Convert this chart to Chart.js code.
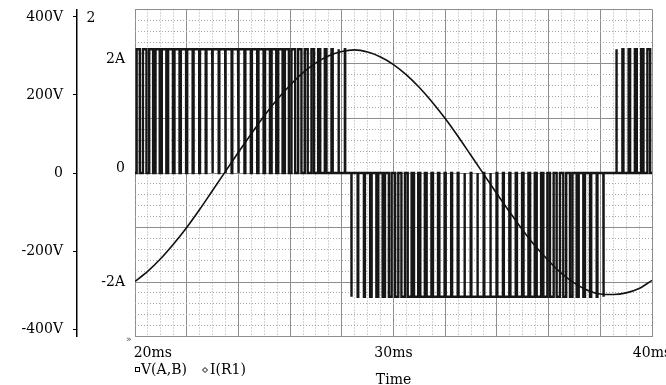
<!DOCTYPE html>
<html><head><meta charset="utf-8">
<script src="https://cdn.jsdelivr.net/npm/chart.js@4.4.1/dist/chart.umd.min.js"></script>
<style>html,body{margin:0;padding:0;background:#fff}canvas{display:block}</style>
</head><body>
<canvas id="c" width="666" height="385"></canvas>
<script>
// ---- axis data ----
const timeMinMs = 20, timeMaxMs = 40;
const timeTickLabels = {20: '20ms', 30: '30ms', 40: '40ms'};
const voltTickValues = [-400, -200, 0, 200, 400];
const currTickLabels = {2: '2A', 0: '0', '-2': '-2A'};
const axisNumberLabel = '2';
const legendVoltage = 'V(A,B)';
const legendCurrent = 'I(R1)';
const xTitle = 'Time';

// ---- I(R1) (A), sampled every 0.5 ms ----
const currentTimeMs = [20,20.5,21,21.5,22,22.5,23,23.5,24,24.5,25,25.5,26,26.5,27,27.5,28,28.5,29,29.5,30,30.5,31,31.5,32,32.5,33,33.5,34,34.5,35,35.5,36,36.5,37,37.5,38,38.5,39,39.5,40];
const currentA = [-1.99,-1.80,-1.57,-1.30,-1.00,-0.67,-0.32,0.03,0.38,0.72,1.05,1.35,1.61,1.84,2.02,2.15,2.23,2.26,2.22,2.13,1.99,1.80,1.57,1.30,1.00,0.67,0.32,-0.03,-0.38,-0.72,-1.05,-1.35,-1.61,-1.84,-2.02,-2.15,-2.22,-2.23,-2.20,-2.12,-1.97];

// ---- V(A,B) PWM pulses: centre time (ms), width (ms), level (V) per segment ----
const posPulseCentersA = [20.125,20.375,20.625,20.875,21.125,21.375,21.625,21.875,22.125,22.375,22.625,22.875,23.125,23.375,23.625,23.875,24.125,24.375,24.625,24.875,25.125,25.375,25.625,25.875,26.125,26.375,26.625,26.875,27.125,27.375,27.625,27.875,28.125];
const posPulseWidthsA = [0.122,0.137,0.150,0.163,0.175,0.185,0.195,0.203,0.210,0.216,0.220,0.223,0.225,0.225,0.224,0.221,0.217,0.212,0.206,0.198,0.189,0.179,0.168,0.155,0.142,0.128,0.113,0.097,0.081,0.064,0.047,0.030,0.012];
const negPulseCenters = [28.375,28.625,28.875,29.125,29.375,29.625,29.875,30.125,30.375,30.625,30.875,31.125,31.375,31.625,31.875,32.125,32.375,32.625,32.875,33.125,33.375,33.625,33.875,34.125,34.375,34.625,34.875,35.125,35.375,35.625,35.875,36.125,36.375,36.625,36.875,37.125,37.375,37.625,37.875,38.125];
const negPulseWidths = [0.005,0.023,0.040,0.058,0.075,0.091,0.107,0.122,0.137,0.150,0.163,0.175,0.185,0.195,0.203,0.210,0.216,0.220,0.223,0.225,0.225,0.224,0.221,0.217,0.212,0.206,0.198,0.189,0.179,0.168,0.155,0.142,0.128,0.113,0.097,0.081,0.064,0.047,0.030,0.012];
const posPulseCentersB = [38.625,38.875,39.125,39.375,39.625,39.875];
const posPulseWidthsB = [0.023,0.040,0.058,0.075,0.091,0.107];
const pulseLevelsV = [317, -317, 317];

// ---- build PWM trace from pulses ----
const segments = [
  {c: posPulseCentersA, w: posPulseWidthsA, v: pulseLevelsV[0]},
  {c: negPulseCenters, w: negPulseWidths, v: pulseLevelsV[1]},
  {c: posPulseCentersB, w: posPulseWidthsB, v: pulseLevelsV[2]}
];
const pwmPoints = [{x: timeMinMs, y: 0}];
segments.forEach(seg => seg.c.forEach((c, i) => {
  const a = c - seg.w[i] / 2, b = c + seg.w[i] / 2;
  pwmPoints.push({x: a, y: 0}, {x: a, y: seg.v}, {x: b, y: seg.v}, {x: b, y: 0});
}));
pwmPoints.push({x: timeMaxMs, y: 0});
const currentPoints = currentTimeMs.map((t, i) => ({x: t, y: currentA[i]}));

// ---- grid positions ----
const range = (a, b, s) => { const r = []; for (let k = 0; a + k * s <= b + 1e-9; k++) r.push(+(a + k * s).toFixed(4)); return r; };
const xMajor = range(20, 40, 2), xMinor = range(20, 40, 0.5);
const yMajor = range(-3, 3, 1), yMinor = range(-3, 3, 0.2);

const F = '"DejaVu Serif", serif';
const MAJOR = '#8e8e8e', MINOR = '#a8a8a8';
const setTicks = vals => s => { s.ticks = vals.map(v => ({value: v})); };

const annot = {
  id: 'annot',
  afterDraw(chart) {
    const ctx = chart.ctx, a = chart.chartArea;
    ctx.save();
    ctx.fillStyle = '#000'; ctx.strokeStyle = '#000'; ctx.lineWidth = 1;
    ctx.font = '14px ' + F; ctx.textBaseline = 'alphabetic';
    ctx.textAlign = 'center';
    ctx.fillText(axisNumberLabel, 91, 22);
    ctx.textAlign = 'left';
    // legend
    ctx.strokeRect(a.left + 0.5, 367.5, 4, 4);
    ctx.fillText(legendVoltage, a.left + 6, 374);
    ctx.beginPath();
    ctx.moveTo(205, 367.5); ctx.lineTo(207.5, 370); ctx.lineTo(205, 372.5); ctx.lineTo(202.5, 370); ctx.closePath();
    ctx.stroke();
    ctx.fillText(legendCurrent, 210, 374);
    ctx.font = '9px ' + F; ctx.fillStyle = '#444';
    ctx.fillText('\u00bb', a.left - 9, 342);
    ctx.restore();
  }
};

new Chart(document.getElementById('c'), {
  type: 'line',
  data: {
    datasets: [
      {label: legendCurrent, data: currentPoints, xAxisID: 'x', yAxisID: 'yI', borderColor: '#111', borderWidth: 1.6,
       pointRadius: 0, cubicInterpolationMode: 'monotone', order: 0},
      {label: legendVoltage, data: pwmPoints, xAxisID: 'x', yAxisID: 'yV', borderColor: '#161616', borderWidth: 2.4,
       pointRadius: 0, tension: 0, order: 1}
    ]
  },
  options: {
    responsive: false, devicePixelRatio: 1, animation: false, events: [],
    layout: {padding: {left: 0, right: 14, top: 9.5, bottom: 0}},
    plugins: {legend: {display: false}, tooltip: {enabled: false}},
    scales: {
      xMinor: {type: 'linear', position: 'bottom', min: 20, max: 40, weight: 0,
        afterBuildTicks: setTicks(xMinor), afterFit: s => { s.height = 0; s.paddingLeft = 0; s.paddingRight = 0; },
        grid: {color: MINOR, drawTicks: false, z: -1}, border: {display: false, dash: [1, 2]}, ticks: {display: false}},
      x: {type: 'linear', position: 'bottom', min: 20, max: 40, weight: 1,
        afterBuildTicks: setTicks(xMajor), afterFit: s => { s.height = 48.5; s.paddingLeft = 0; s.paddingRight = 0; },
        grid: {color: MAJOR, drawTicks: false}, border: {display: false},
        ticks: {autoSkip: false, maxRotation: 0, minRotation: 0, padding: 8, color: '#000', font: {family: F, size: 14},
          callback: v => v === 20 ? '\u00a0'.repeat(8) + timeTickLabels[v] : (timeTickLabels[v] || '')},
        title: {display: true, text: xTitle, color: '#000', font: {family: F, size: 14, lineHeight: 0.7}, padding: 0}},
      yMinor: {type: 'linear', position: 'right', min: -3, max: 3,
        afterBuildTicks: setTicks(yMinor), afterFit: s => { s.width = 0; s.paddingTop = 0; s.paddingBottom = 0; },
        grid: {color: MINOR, drawTicks: false, z: -1}, border: {display: false, dash: [1, 2]}, ticks: {display: false}},
      yI: {type: 'linear', position: 'left', min: -3, max: 3, weight: 1,
        afterBuildTicks: setTicks(yMajor), afterFit: s => { s.width = 58; s.paddingTop = 0; s.paddingBottom = 0; },
        grid: {color: MAJOR, drawTicks: false}, border: {display: false},
        ticks: {padding: 10, color: '#000', font: {family: F, size: 14, lineHeight: '10px'},
          callback: v => { const t = currTickLabels[v]; if (t === undefined) return ''; return v >= 0 ? [t, ''] : t; }}},
      yV: {type: 'linear', position: 'left', min: -419, max: 419, weight: 2,
        afterBuildTicks: setTicks(voltTickValues), afterFit: s => { s.width = 77; s.paddingTop = 0; s.paddingBottom = 0; },
        grid: {drawOnChartArea: false, drawTicks: true, tickLength: 4, tickColor: '#000', tickWidth: 1},
        border: {display: true, color: '#000', width: 1.5},
        ticks: {padding: 10, color: '#000', font: {family: F, size: 14}, callback: v => v === 0 ? '0' : v + 'V'}}
    }
  },
  plugins: [annot]
});
</script>
</body></html>
